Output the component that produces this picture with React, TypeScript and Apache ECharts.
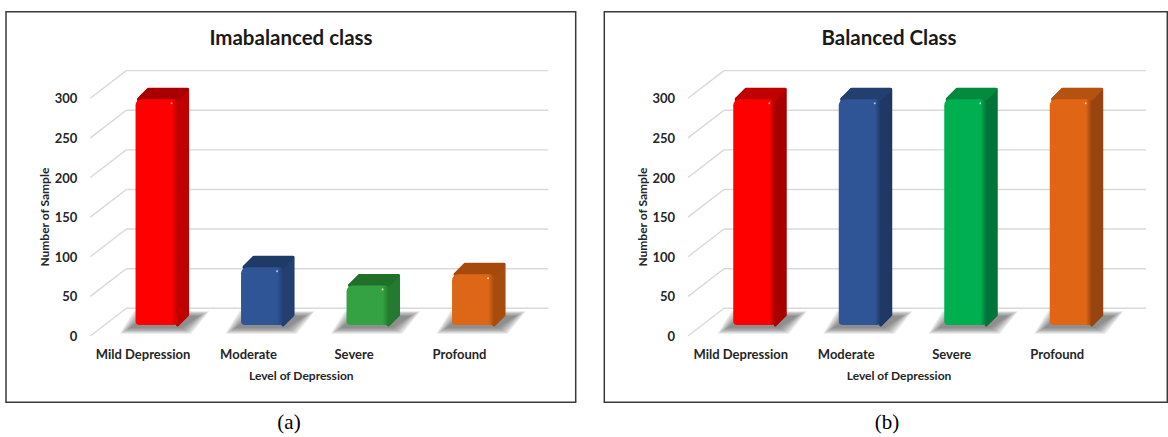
import React, { useEffect, useRef } from "react";
import * as echarts from "echarts";

// Data
const categories = ["Mild Depression", "Moderate", "Severe", "Profound"];
const imbalancedCounts = [285, 73, 50, 64];
const balancedCounts = [285, 285, 285, 285];
const yTicks = [0, 50, 100, 150, 200, 250, 300];

// Face colours per category: [front, side, top]
const imbalancedColors = [
  ["#ff0000", "#c00000", "#a80000"],
  ["#2f5597", "#223f70", "#1f3a66"],
  ["#34a142", "#247a2e", "#21702a"],
  ["#de6717", "#a84c0e", "#a5490c"],
];
const balancedColors = [
  ["#ff0000", "#a80000", "#c00000"],
  ["#2f5597", "#1f3864", "#223f70"],
  ["#00b050", "#00753a", "#008a3e"],
  ["#e06616", "#974410", "#b5520f"],
];

const FONT = "Lato, 'Open Sans', sans-serif";
const TEXT = "#262626";
const GRID_LINE = "#d9d9d9";

// Perspective offsets (back wall and bar plane relative to the front plane)
const WALL_DX = 36;
const WALL_DY = 27.7;
const BAR_DX = 13.5;
const BAR_DY = 11;
const BAR_W = 42;
const BAR_DEPTH_X = 10;
const BAR_DEPTH_Y = 10;

const renderWall = (params: any, api: any) => {
  const v = api.value(1);
  const cs = params.coordSys;
  const y = api.coord([0, v])[1];
  const x0 = cs.x;
  const x1 = cs.x + cs.width;
  const style = { stroke: GRID_LINE, lineWidth: 1.4, fill: null };
  return {
    type: "group",
    children: [
      { type: "line", shape: { x1: x0, y1: y, x2: x0 + WALL_DX, y2: y - WALL_DY }, style },
      { type: "line", shape: { x1: x0 + WALL_DX, y1: y - WALL_DY, x2: x1 + WALL_DX, y2: y - WALL_DY }, style },
    ],
  };
};

// Soft floor shadow built from a few stacked, growing translucent layers
const shadowLayers = (xl: number, xr: number, yb: number, dx: number, dy: number) => {
  const layers: any[] = [];
  const steps = 6;
  for (let k = steps; k >= 0; k--) {
    const g = k * 1.6;
    layers.push({
      type: "polygon",
      shape: {
        points: [
          [xl - 6 - g, yb + 3 + g * 0.6],
          [xr + 4 + g, yb + 3 + g * 0.6],
          [xr + dx + 12 + g, yb - dy + 1 - g * 0.5],
          [xl + dx - 2 - g, yb - dy + 1 - g * 0.5],
        ],
      },
      style: { fill: "rgba(80,80,80,0.13)", lineJoin: "round" },
      silent: true,
    });
  }
  return layers;
};

const makeBarRenderer = (palette: string[][]) => (params: any, api: any) => {
  const i = api.value(0);
  const v = api.value(1);
  const base = api.coord([i, 0]);
  const top = api.coord([i, v]);
  const [front, side, topC] = palette[params.dataIndex % palette.length];
  const cx = base[0] + BAR_DX;
  const yb = base[1] - BAR_DY;
  const yt = top[1] - BAR_DY;
  const xl = cx - BAR_W / 2;
  const xr = cx + BAR_W / 2;
  const dx = BAR_DEPTH_X;
  const dy = BAR_DEPTH_Y;
  return {
    type: "group",
    children: [
      ...shadowLayers(xl, xr, yb, dx, dy),
      {
        type: "polygon",
        shape: {
          points: [
            [xl + 3, yt],
            [xl + dx + 3, yt - dy],
            [xr + dx, yt - dy],
            [xr + dx, yb - dy],
            [xr, yb],
          ],
        },
        style: { fill: side, stroke: side, lineWidth: 3, lineJoin: "round" },
      },
      {
        type: "polygon",
        shape: {
          points: [
            [xl + 3, yt],
            [xl + dx + 3, yt - dy],
            [xr + dx, yt - dy],
            [xr, yt],
          ],
        },
        style: { fill: topC, stroke: topC, lineWidth: 2.5, lineJoin: "round" },
      },
      {
        type: "rect",
        shape: { x: xl, y: yt, width: BAR_W, height: yb - yt, r: [6, 4, 4, 4] },
        style: {
          fill: new echarts.graphic.LinearGradient(0, 0, 1, 0, [
            { offset: 0, color: front },
            { offset: 0.86, color: front },
            { offset: 1, color: side },
          ]),
        },
      },
      {
        type: "circle",
        shape: { cx: xr - 6, cy: yt + 4, r: 0.9 },
        style: { fill: "rgba(255,255,255,0.7)" },
      },
    ],
  };
};

const panelAxes = (gridIndex: number) => ({
  x: {
    type: "category",
    gridIndex,
    data: categories,
    axisLine: { show: false },
    axisTick: { show: false },
    splitLine: { show: false },
    axisLabel: { interval: 0, margin: 11, color: TEXT, fontFamily: FONT, fontWeight: "bold", fontSize: 13 },
    name: "Level of Depression",
    nameLocation: "middle",
    nameGap: 33,
    nameTextStyle: { color: TEXT, fontFamily: FONT, fontWeight: "bold", fontSize: 12 },
  },
  y: {
    type: "value",
    gridIndex,
    min: 0,
    max: 300,
    interval: 50,
    axisLine: { show: false },
    axisTick: { show: false },
    splitLine: { show: false },
    axisLabel: { margin: 13, color: TEXT, fontFamily: FONT, fontWeight: "bold", fontSize: 13 },
    name: "Number of Sample",
    nameLocation: "middle",
    nameGap: 40,
    nameTextStyle: { color: TEXT, fontFamily: FONT, fontWeight: "bold", fontSize: 12 },
  },
});

export default function App() {
  const ref = useRef<HTMLDivElement>(null);

  useEffect(() => {
    if (!ref.current) return;
    const chart = echarts.init(ref.current, undefined, { renderer: "svg" });
    const a0 = panelAxes(0);
    const a1 = panelAxes(1);
    const wallData = yTicks.map((v) => [0, v]);

    chart.setOption({
      animation: false,
      backgroundColor: "#ffffff",
      grid: [
        { left: 90.3, top: 98.3, width: 422, height: 237.7 },
        { left: 688, top: 98.3, width: 422, height: 237.7 },
      ],
      xAxis: [a0.x, a1.x],
      yAxis: [a0.y, a1.y],
      graphic: [
        { type: "rect", shape: { x: 6, y: 11.7, width: 569.7, height: 390.6 }, style: { fill: null, stroke: "#3a3a3a", lineWidth: 1.5 }, silent: true },
        { type: "rect", shape: { x: 604.3, y: 11.7, width: 563, height: 390.6 }, style: { fill: null, stroke: "#3a3a3a", lineWidth: 1.5 }, silent: true },
        { type: "text", x: 291, y: 37, style: { text: "Imabalanced class", fill: "#1a1a1a", font: `bold 20.5px ${FONT}`, textAlign: "center", textVerticalAlign: "middle" } },
        { type: "text", x: 889, y: 37, style: { text: "Balanced Class", fill: "#1a1a1a", font: `bold 20.5px ${FONT}`, textAlign: "center", textVerticalAlign: "middle" } },
        { type: "text", x: 289, y: 422, style: { text: "(a)", fill: "#000000", font: "21px 'Liberation Serif', 'Times New Roman', serif", textAlign: "center", textVerticalAlign: "middle" } },
        { type: "text", x: 887, y: 422, style: { text: "(b)", fill: "#000000", font: "21px 'Liberation Serif', 'Times New Roman', serif", textAlign: "center", textVerticalAlign: "middle" } },
      ],
      series: [
        { type: "custom", xAxisIndex: 0, yAxisIndex: 0, data: wallData, renderItem: renderWall, z: 1, silent: true },
        { type: "custom", xAxisIndex: 1, yAxisIndex: 1, data: wallData, renderItem: renderWall, z: 1, silent: true },
        {
          type: "custom",
          name: "Imbalanced",
          xAxisIndex: 0,
          yAxisIndex: 0,
          data: imbalancedCounts.map((v, i) => [i, v]),
          renderItem: makeBarRenderer(imbalancedColors),
          z: 2,
        },
        {
          type: "custom",
          name: "Balanced",
          xAxisIndex: 1,
          yAxisIndex: 1,
          data: balancedCounts.map((v, i) => [i, v]),
          renderItem: makeBarRenderer(balancedColors),
          z: 2,
        },
      ],
    });
    return () => chart.dispose();
  }, []);

  return (
    <div
      ref={ref}
      style={{ position: "absolute", left: 0, top: 0, width: 1168, height: 437, background: "#fff" }}
    />
  );
}
